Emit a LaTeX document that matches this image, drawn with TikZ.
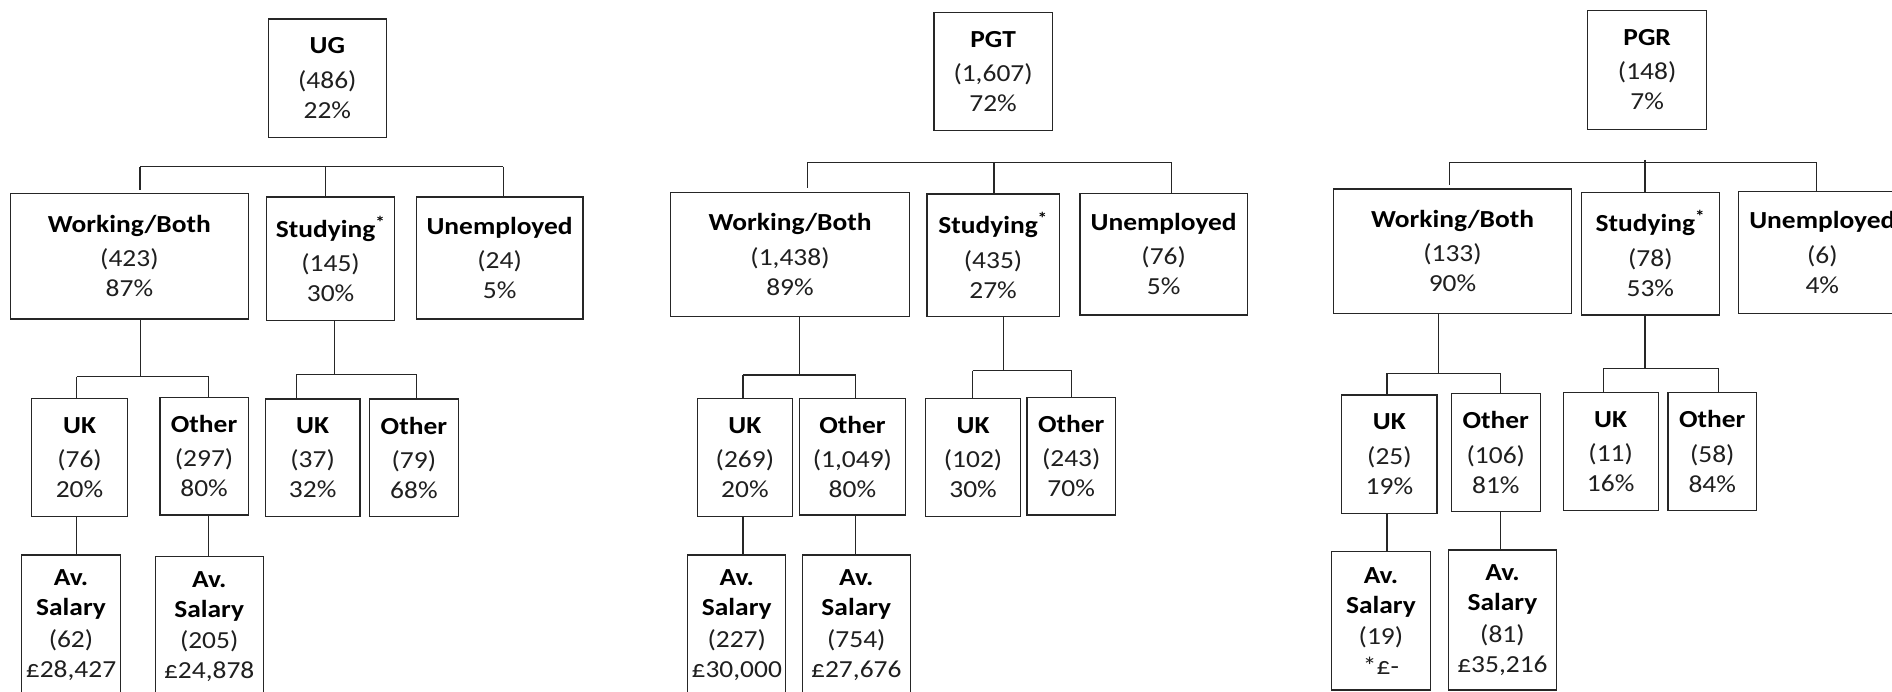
\documentclass[tikz,border=0pt]{standalone}
\usepackage{fontspec}
\setmainfont{Carlito}[FakeStretch=1.12]
\newcommand\hd[1]{{\bfseries\color{black}#1}}
\newcommand\st{\textsuperscript{*}}
\newcommand\avs{\hd{Av.}\\\hd{Salary}}
\tikzset{
  box/.style={draw=black!85, line width=1.2pt, inner sep=0pt, align=center,
    text=black!88, font=\fontsize{24.5}{30}\selectfont},
  conn/.style={draw=black!85, line width=1.2pt},
}
\newcommand\bx[6]{\node[box, minimum width={#4-#2}, minimum height={#5-#3}] (#1) at ({(#2+#4)/2},{(#3+#5)/2}) {#6};}
\begin{document}
\begin{tikzpicture}[x=1pt,y=-1pt]
\fill[white] (0,0) rectangle (1892,692);
\useasboundingbox (0,0) rectangle (1892,692);
\clip (0,0) rectangle (1892,692);

% ================= UG =================
\bx{ug}{268.2}{19}{386.5}{137.3}{\hd{UG}\\[4.5pt](486)\\22\%}
\bx{ugW}{10.2}{193.3}{248.6}{319}{\hd{Working/Both}\\[4.5pt](423)\\87\%}
\bx{ugS}{266.5}{197}{394.7}{320.7}{\hd{Studying\st}\\[4.5pt](145)\\30\%}
\bx{ugU}{416.3}{197}{582.9}{319}{\hd{Unemployed}\\[4.5pt](24)\\5\%}
\bx{ugWuk}{31.8}{398.3}{127.3}{516.7}{\hd{UK}\\[4.5pt](76)\\20\%}
\bx{ugWot}{160}{397.3}{248.2}{515}{\hd{Other}\\[4.5pt](297)\\80\%}
\bx{ugSuk}{265.3}{399}{360}{516.7}{\hd{UK}\\[4.5pt](37)\\32\%}
\bx{ugSot}{369.4}{399}{458.4}{516.7}{\hd{Other}\\[4.5pt](79)\\68\%}
\bx{ugSa}{21.6}{555}{120.4}{695}{\avs\\[1.5pt](62)\\£28,427}
\bx{ugSb}{155.1}{556.7}{263.3}{696.7}{\avs\\[1.5pt](205)\\£24,878}
\coordinate (ugL) at (140,166.7);
\coordinate (ugM) at (325.3,166.7);
\coordinate (ugR) at (503.3,166.7);
\draw[conn] (ugL) -- (ugR);
\draw[conn, shorten >=3pt] (ugL) -- (ugL |- ugW.north);
\draw[conn] (ugM) -- (ugM |- ugS.north);
\draw[conn] (ugR) -- (ugR |- ugU.north);
\coordinate (ugWJ) at (140.4,376.7);
\coordinate (ugWL) at (76.7,376.7);
\coordinate (ugWR) at (208.6,376.7);
\draw[conn] (ugWJ |- ugW.south) -- (ugWJ);
\draw[conn] (ugWL) -- (ugWR);
\draw[conn] (ugWL) -- (ugWL |- ugWuk.north);
\draw[conn] (ugWR) -- (ugWR |- ugWot.north);
\coordinate (ugSJ) at (334.7,374.3);
\coordinate (ugSL) at (296.3,374.3);
\coordinate (ugSR) at (416.3,374.3);
\draw[conn] (ugSJ |- ugS.south) -- (ugSJ);
\draw[conn] (ugSL) -- (ugSR);
\draw[conn] (ugSL) -- (ugSL |- ugSuk.north);
\draw[conn] (ugSR) -- (ugSR |- ugSot.north);
\draw[conn] (ugWL |- ugWuk.south) -- (ugWL |- ugSa.north);
\draw[conn] (ugWR |- ugWot.south) -- (ugWR |- ugSb.north);

% ================= PGT =================
\bx{pgt}{933.9}{12.3}{1052.2}{130.7}{\hd{PGT}\\[4.5pt](1,607)\\72\%}
\bx{pgtW}{670.6}{192.3}{909.4}{316.7}{\hd{Working/Both}\\[4.5pt](1,438)\\89\%}
\bx{pgtS}{926.9}{194}{1059.2}{316.7}{\hd{Studying\st}\\[4.5pt](435)\\27\%}
\bx{pgtU}{1080}{193.3}{1247.3}{315}{\hd{Unemployed}\\[4.5pt](76)\\5\%}
\bx{pgtWuk}{697.1}{398.7}{792.7}{516.7}{\hd{UK}\\[4.5pt](269)\\20\%}
\bx{pgtWot}{799.2}{398.7}{905.7}{515}{\hd{Other}\\[4.5pt](1,049)\\80\%}
\bx{pgtSuk}{925.7}{398.7}{1020.4}{516.7}{\hd{UK}\\[4.5pt](102)\\30\%}
\bx{pgtSot}{1026.9}{397.3}{1115.5}{515}{\hd{Other}\\[4.5pt](243)\\70\%}
\bx{pgtSa}{687.8}{555}{785.7}{695}{\avs\\[1.5pt](227)\\£30,000}
\bx{pgtSb}{802.4}{555}{910.2}{695}{\avs\\[1.5pt](754)\\£27,676}
\coordinate (pgtL) at (807.3,162.3);
\coordinate (pgtM) at (993.9,162.3);
\coordinate (pgtR) at (1171.8,162.3);
\draw[conn] (pgtL) -- (pgtR);
\draw[conn, shorten >=4pt] (pgtL) -- (pgtL |- pgtW.north);
\draw[conn] (pgtM) -- (pgtM |- pgtS.north);
\draw[conn] (pgtR) -- (pgtR |- pgtU.north);
\coordinate (pgtWJ) at (799.2,375);
\coordinate (pgtWL) at (742.9,375);
\coordinate (pgtWR) at (855.5,375);
\draw[conn] (pgtWJ |- pgtW.south) -- (pgtWJ);
\draw[conn] (pgtWL) -- (pgtWR);
\draw[conn] (pgtWL) -- (pgtWL |- pgtWuk.north);
\draw[conn] (pgtWR) -- (pgtWR |- pgtWot.north);
\coordinate (pgtSJ) at (1003.3,370.7);
\coordinate (pgtSL) at (972.7,370.7);
\coordinate (pgtSR) at (1071.8,370.7);
\draw[conn] (pgtSJ |- pgtS.south) -- (pgtSJ);
\draw[conn] (pgtSL) -- (pgtSR);
\draw[conn] (pgtSL) -- (pgtSL |- pgtSuk.north);
\draw[conn] (pgtSR) -- (pgtSR |- pgtSot.north);
\draw[conn] (pgtWL |- pgtWuk.south) -- (pgtWL |- pgtSa.north);
\draw[conn] (pgtWR |- pgtWot.south) -- (pgtWR |- pgtSb.north);

% ================= PGR =================
\bx{pgr}{1587.7}{10.3}{1706.6}{129.3}{\hd{PGR}\\[4.5pt](148)\\7\%}
\bx{pgrW}{1333.4}{189}{1571.6}{313.3}{\hd{Working/Both}\\[4.5pt](133)\\90\%}
\bx{pgrS}{1581.2}{192.3}{1719.5}{315}{\hd{Studying\st}\\[4.5pt](78)\\53\%}
\bx{pgrU}{1738.8}{191.7}{1905.8}{313.3}{\hd{Unemployed}\\[4.5pt](6)\\4\%}
\bx{pgrWuk}{1341.8}{395}{1437}{513.3}{\hd{UK}\\[4.5pt](25)\\19\%}
\bx{pgrWot}{1451.5}{393.3}{1540.1}{511.7}{\hd{Other}\\[4.5pt](106)\\81\%}
\bx{pgrSuk}{1563.1}{392.3}{1658.2}{510.7}{\hd{UK}\\[4.5pt](11)\\16\%}
\bx{pgrSot}{1667.9}{392.3}{1756.6}{510.7}{\hd{Other}\\[4.5pt](58)\\84\%}
\bx{pgrSa}{1331.7}{551.7}{1430.1}{690}{\avs\\[1.5pt](19)\\*£-}
\bx{pgrSb}{1448.2}{550}{1556.7}{690}{\avs\\[1.5pt](81)\\£35,216}
\coordinate (pgrL) at (1449.8,162.3);
\coordinate (pgrM) at (1644.9,162.3);
\coordinate (pgrR) at (1816.2,162.3);
\coordinate (pgrT) at (1644.9,160);
\draw[conn] (pgrL) -- (pgrR);
\draw[conn, shorten >=3pt] (pgrL) -- (pgrL |- pgrW.north);
\draw[conn] (pgrT) -- (pgrT |- pgrS.north);
\draw[conn] (pgrR) -- (pgrR |- pgrU.north);
\coordinate (pgrWJ) at (1438.6,373.3);
\coordinate (pgrWL) at (1387,373.3);
\coordinate (pgrWR) at (1500.2,373.3);
\draw[conn] (pgrWJ |- pgrW.south) -- (pgrWJ);
\draw[conn] (pgrWL) -- (pgrWR);
\draw[conn] (pgrWL) -- (pgrWL |- pgrWuk.north);
\draw[conn] (pgrWR) -- (pgrWR |- pgrWot.north);
\coordinate (pgrSJ) at (1644.9,368.3);
\coordinate (pgrSL) at (1603.4,368.3);
\coordinate (pgrSR) at (1718.3,368.3);
\draw[conn] (pgrSJ |- pgrS.south) -- (pgrSJ);
\draw[conn] (pgrSL) -- (pgrSR);
\draw[conn] (pgrSL) -- (pgrSL |- pgrSuk.north);
\draw[conn] (pgrSR) -- (pgrSR |- pgrSot.north);
\draw[conn] (pgrWL |- pgrWuk.south) -- (pgrWL |- pgrSa.north);
\draw[conn] (pgrWR |- pgrWot.south) -- (pgrWR |- pgrSb.north);
\end{tikzpicture}
\end{document}
